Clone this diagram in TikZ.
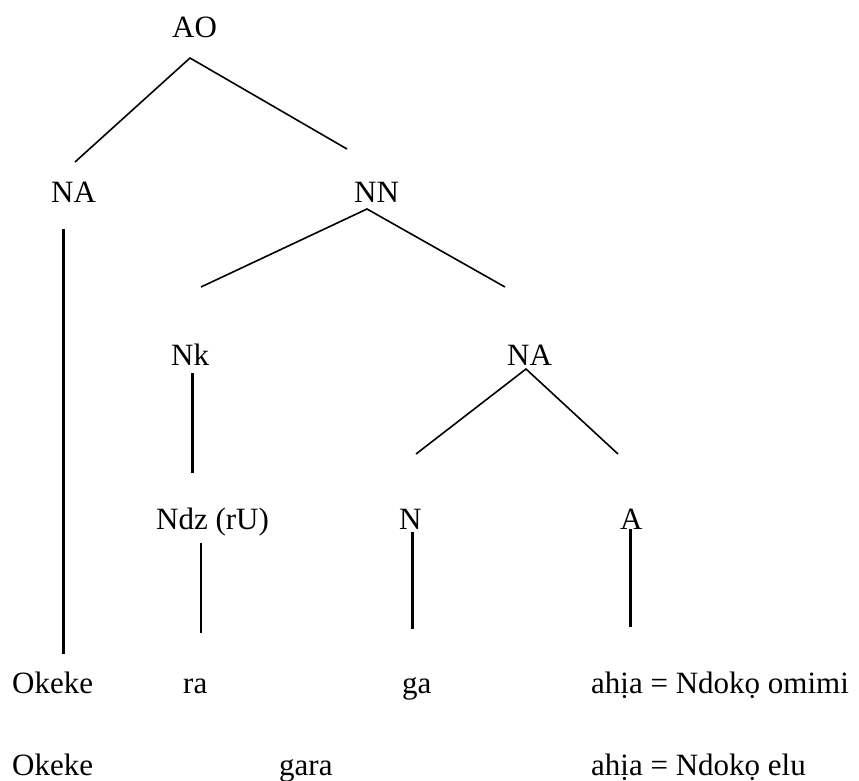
\documentclass[tikz,border=0pt]{standalone}
\usepackage{fontspec}
\setmainfont{Liberation Serif}
\usetikzlibrary{calc}
\begin{document}
\begin{tikzpicture}[x=1pt,y=1pt,
  lbl/.style={inner sep=0pt,anchor=base west,font=\fontsize{31}{37}\selectfont},
  diag/.style={line width=1.6pt},
  thickv/.style={line width=3pt},
  thinv/.style={line width=1.2pt}]
\useasboundingbox (0,0) rectangle (859,-780);
% labels
\node[lbl] (AO)  at (172,-37) {AO};
\node[lbl] (NA)  at (51,-202) {NA};
\node[lbl] (NN)  at (354,-202) {NN};
\node[lbl] (Nk)  at (171,-365) {Nk};
\node[lbl] (NAb) at (507,-365) {NA};
\node[lbl] (Ndz) at (156,-529) {Ndz (rU)};
\node[lbl] (N)   at (399,-529) {N};
\node[lbl] (A)   at (620,-529) {A};
\node[lbl] (Ok1) at (12,-693) {Okeke};
\node[lbl] (ra)  at (183,-693) {ra};
\node[lbl] (ga)  at (402,-693) {ga};
\node[lbl] (ah1) at (591,-693) {ahịa = Ndokọ omimi};
\node[lbl] (Ok2) at (12,-775) {Okeke};
\node[lbl] (gara) at (279,-775) {gara};
\node[lbl] (ah2) at (591,-775) {ahịa = Ndokọ elu};
% connectors
\draw[diag] ($(NA.base west)+(24,40)$) -- ($(AO.base west)+(18,-21)$) -- ($(NN.base west)+(-7,53)$);
\draw[thickv] ($(NA.base west)+(12,-27)$) -- ($(Ok1.base west)+(51,39)$);
\draw[diag] ($(Nk.base west)+(30,78)$) -- ($(NN.base west)+(13,-7)$) -- ($(NAb.base west)+(-2,78)$);
\draw[thickv] ($(Nk.base west)+(21,-8)$) -- ($(Ndz.base west)+(36,56)$);
\draw[diag] ($(N.base west)+(17,75)$) -- ($(NAb.base west)+(19,-4)$) -- ($(A.base west)+(-2,75)$);
\draw[thinv] ($(Ndz.base west)+(45,-14)$) -- ($(ra.base west)+(18,60)$);
\draw[thickv] ($(N.base west)+(13,-3)$) -- ($(ga.base west)+(10,64)$);
\draw[thickv] ($(A.base west)+(10,0)$) -- ($(ah1.base west)+(39,66)$);
\end{tikzpicture}
\end{document}
